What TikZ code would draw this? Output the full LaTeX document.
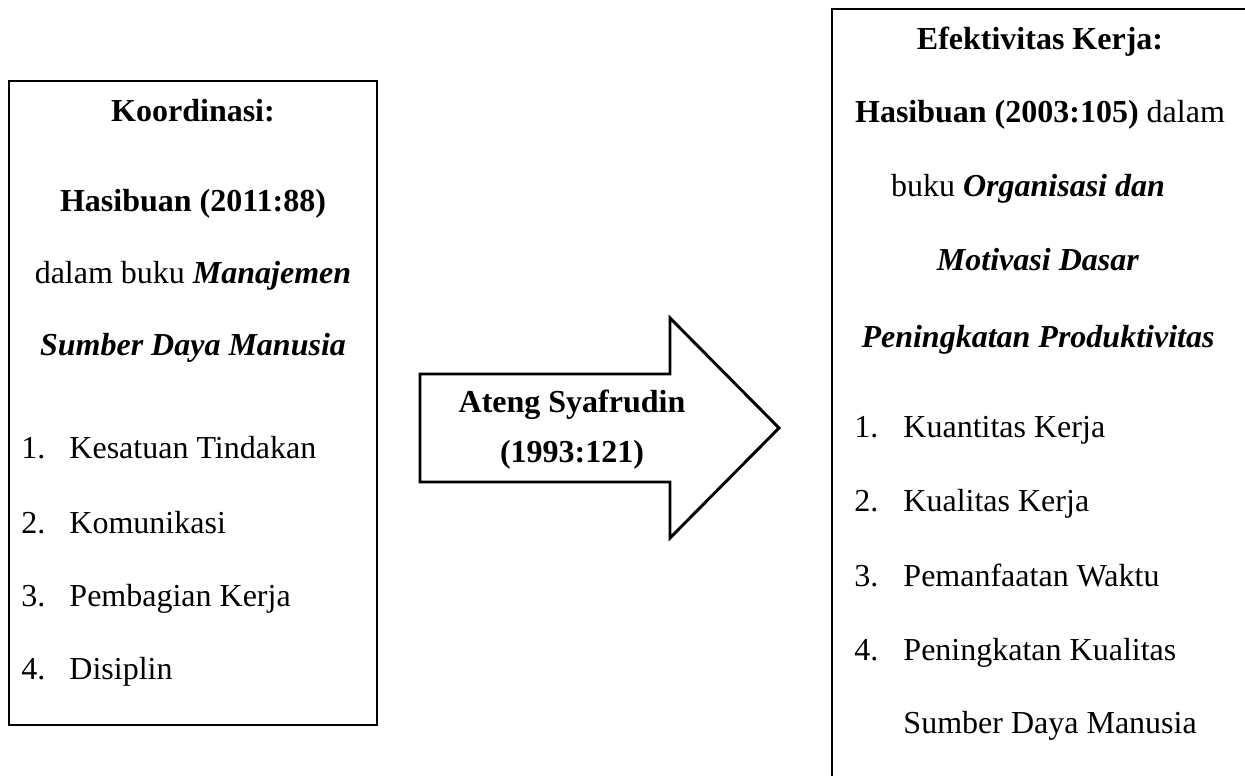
\documentclass[tikz,border=0pt]{standalone}
\usepackage{fontspec}
\setmainfont{Liberation Serif}
\usetikzlibrary{positioning}

\begin{document}
\begin{tikzpicture}[x=0.375pt, y=-0.375pt, line width=1.1pt, inner sep=0pt,
    kotak/.style={draw, rectangle},
    teks/.style={anchor=base, font=\fontsize{12}{14}\selectfont},
    nomor/.style={anchor=base west, font=\fontsize{12}{14}\selectfont}]

  \useasboundingbox (0,0) rectangle (1245,776);

  % kotak kiri dan kanan
  \node[kotak, minimum width=138pt, minimum height=241.5pt] (K) at (193,403) {};
  \node[kotak, minimum width=156pt, minimum height=296.6pt] (E) at (1040,404.5) {};

  % panah tengah
  \coordinate (A1) at (420,374);
  \coordinate (A2) at (670,374);
  \coordinate (A3) at (670,318);
  \coordinate (Tip) at (779,428);
  \coordinate (A4) at (670,538);
  \coordinate (A5) at (670,482);
  \coordinate (A6) at (420,482);
  \draw (A1) -- (A2) -- (A3) -- (Tip) -- (A4) -- (A5) -- (A6) -- cycle;

  \node[teks] (P1) at (572,413) {\textbf{Ateng Syafrudin}};
  \node[teks] (P2) at (572,463) {\textbf{(1993:121)}};

  % isi kotak kiri
  \node[teks] (K1) at (193,122) {\textbf{Koordinasi:}};
  \node[teks] (K2) at (193,212) {\textbf{Hasibuan (2011:88)}};
  \node[teks] (K3) at (193,284) {dalam buku \textbf{\textit{Manajemen}}};
  \node[teks] (K4) at (193,356) {\textbf{\textit{Sumber Daya Manusia}}};

  \node[nomor] (KN1) at (20,459) {1.};
  \node[nomor] (KN2) at (20,533) {2.};
  \node[nomor] (KN3) at (20,606) {3.};
  \node[nomor] (KN4) at (20,679) {4.};
  \node[nomor] (KL1) at (68,459) {Kesatuan Tindakan};
  \node[nomor] (KL2) at (68,533) {Komunikasi};
  \node[nomor] (KL3) at (68,606) {Pembagian Kerja};
  \node[nomor] (KL4) at (68,679) {Disiplin};

  % isi kotak kanan
  \node[teks] (E1) at (1040,50) {\textbf{Efektivitas Kerja:}};
  \node[teks] (E2) at (1040,123) {\textbf{Hasibuan (2003:105)} dalam};
  \node[teks] (E3) at (1028,197) {buku \textbf{\textit{Organisasi dan}}};
  \node[teks] (E4) at (1038,271) {\textbf{\textit{Motivasi Dasar}}};
  \node[teks] (E5) at (1038,348) {\textbf{\textit{Peningkatan Produktivitas}}};

  \node[nomor] (EN1) at (853,438) {1.};
  \node[nomor] (EN2) at (853,512) {2.};
  \node[nomor] (EN3) at (853,586) {3.};
  \node[nomor] (EN4) at (853,660) {4.};
  \node[nomor] (EL1) at (902,438) {Kuantitas Kerja};
  \node[nomor] (EL2) at (902,512) {Kualitas Kerja};
  \node[nomor] (EL3) at (902,586) {Pemanfaatan Waktu};
  \node[nomor] (EL4) at (902,660) {Peningkatan Kualitas};
  \node[nomor] (EL5) at (902,733) {Sumber Daya Manusia};

\end{tikzpicture}
\end{document}
